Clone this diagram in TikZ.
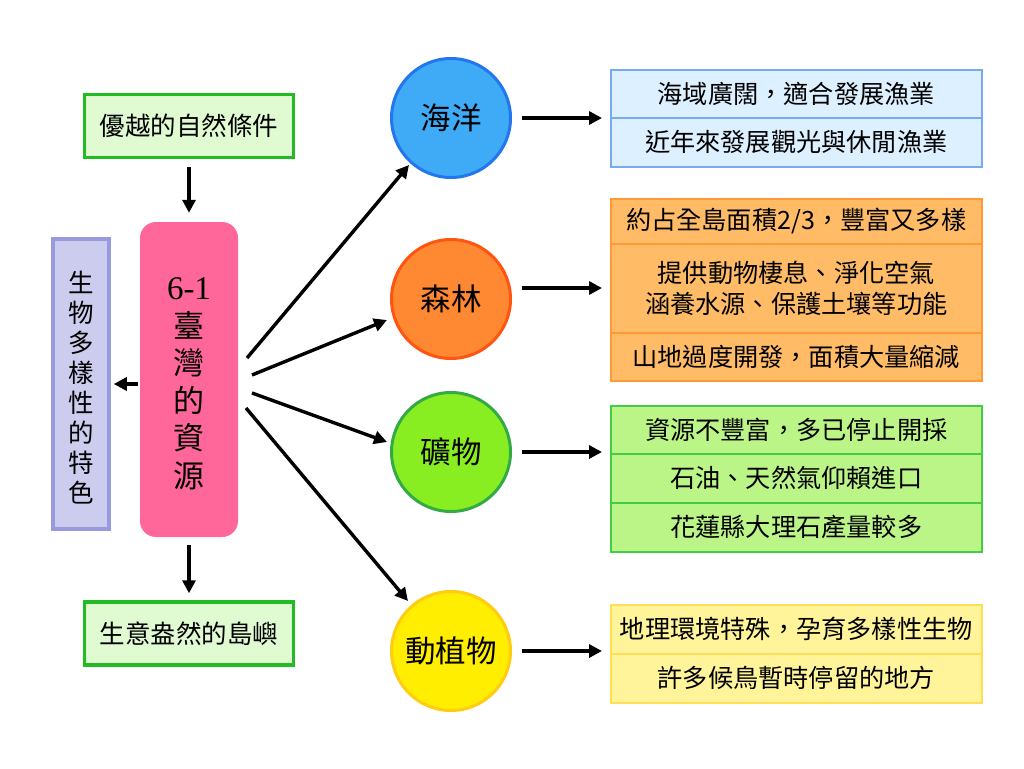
\documentclass[tikz,border=0pt]{standalone}
\usepackage{fontspec}
\setmainfont{Noto Sans CJK TC}
\newfontfamily\numfont{Liberation Serif}
\usetikzlibrary{arrows.meta}
\definecolor{gfill}{HTML}{E0FAD2}
\definecolor{gline}{HTML}{22BB22}
\definecolor{pinkc}{HTML}{FF6699}
\definecolor{pfill}{HTML}{CCCCEE}
\definecolor{pline}{HTML}{9999DD}
\definecolor{bcirc}{HTML}{3FAAF5}
\definecolor{bcircl}{HTML}{2277EE}
\definecolor{ocirc}{HTML}{FF8833}
\definecolor{ocircl}{HTML}{FF5511}
\definecolor{gcirc}{HTML}{88EE22}
\definecolor{gcircl}{HTML}{33AA44}
\definecolor{ycirc}{HTML}{FFEE00}
\definecolor{ycircl}{HTML}{FFCC11}
\definecolor{bbox}{HTML}{DDF0FF}
\definecolor{bboxl}{HTML}{77AAEE}
\definecolor{obox}{HTML}{FFBB66}
\definecolor{oboxl}{HTML}{FF9933}
\definecolor{grbox}{HTML}{BBF588}
\definecolor{grboxl}{HTML}{44CC44}
\definecolor{ybox}{HTML}{FFF49A}
\definecolor{yboxl}{HTML}{FFDD55}
\tikzset{
  arr/.style={line width=3.4pt, -{Triangle[length=13pt,width=13pt]}},
  greenbox/.style={draw=gline, fill=gfill, line width=3.5pt, minimum width=209pt, minimum height=63pt, inner sep=0pt, font=\fontsize{25.5}{28}\selectfont},
  res/.style={circle, line width=3pt, minimum size=119pt, inner sep=0pt, font=\fontsize{30.5}{32}\selectfont},
  row/.style={rectangle, anchor=north west, line width=1.5pt, minimum width=371pt, inner sep=0pt, align=center, font=\fontsize{25.2}{31}\selectfont},
}
\begin{document}
\begin{tikzpicture}[x=1pt,y=-1pt]
\useasboundingbox (0,0) rectangle (1024,768);
% left column
\node[greenbox] (cond) at (189,126) {優越的自然條件};
\node[greenbox] (island) at (189,633.5) {生意盎然的島嶼};
\node[rectangle, rounded corners=16pt, fill=pinkc, minimum width=98pt, minimum height=315pt] (src) at (189,379.5) {};
\node[align=center, font=\fontsize{31}{37.5}\selectfont] (srct) at (189,384) {{\numfont\fontsize{33}{37.5}\selectfont 6-1}\\臺\\灣\\的\\資\\源};
\node[rectangle, draw=pline, fill=pfill, line width=3.5pt, minimum width=56pt, minimum height=290pt] (bio) at (81,384) {};
\node[align=center, font=\fontsize{25.5}{30}\selectfont] (biot) at (81,388) {生\\物\\多\\樣\\性\\的\\特\\色};
\draw[arr, shorten <=8pt, shorten >=9pt] (cond.south) -- (src.north);
\draw[arr, shorten <=8pt, shorten >=7pt] (src.south) -- (island.north);
\draw[arr, shorten <=2pt, shorten >=3pt] (src.west |- 0,384) -- (bio.east |- 0,384);
% resources
\node[res, draw=bcircl, fill=bcirc] (ocean) at (451,118) {海洋};
\node[res, draw=ocircl, fill=ocirc] (forest) at (451,299) {森林};
\node[res, draw=gcircl, fill=gcirc] (mineral) at (451,452) {礦物};
\node[res, draw=ycircl, fill=ycirc] (life) at (451,651) {動植物};
\coordinate (s1) at (247,358);
\coordinate (s2) at (252,375);
\coordinate (s3) at (252,393);
\coordinate (s4) at (246,408);
\coordinate (t1) at (409,165);
\coordinate (t2) at (387,320);
\coordinate (t3) at (387,442);
\coordinate (t4) at (408,601);
\draw[arr] (s1) -- (t1);
\draw[arr] (s2) -- (t2);
\draw[arr] (s3) -- (t3);
\draw[arr] (s4) -- (t4);
% ocean box
\node[row, draw=bboxl, fill=bbox, minimum height=48pt] (o1) at (610,69) {海域廣闊，適合發展漁業};
\node[row, draw=bboxl, fill=bbox, minimum height=49pt] (o2) at (610,117) {近年來發展觀光與休閒漁業};
% forest box
\node[row, draw=oboxl, fill=obox, minimum height=45pt] (f1) at (610,198) {約占全島面積2/3，豐富又多樣};
\node[row, draw=oboxl, fill=obox, minimum height=89pt] (f2) at (610,243) {提供動物棲息、淨化空氣\\涵養水源、保護土壤等功能};
\node[row, draw=oboxl, fill=obox, minimum height=48pt] (f3) at (610,332) {山地過度開發，面積大量縮減};
% mineral box
\node[row, draw=grboxl, fill=grbox, minimum height=48pt] (m1) at (610,405) {資源不豐富，多已停止開採};
\node[row, draw=grboxl, fill=grbox, minimum height=49pt] (m2) at (610,453) {石油、天然氣仰賴進口};
\node[row, draw=grboxl, fill=grbox, minimum height=49pt] (m3) at (610,502) {花蓮縣大理石產量較多};
% life box
\node[row, draw=yboxl, fill=ybox, minimum height=49pt] (l1) at (610,604) {地理環境特殊，孕育多樣性生物};
\node[row, draw=yboxl, fill=ybox, minimum height=49pt] (l2) at (610,653) {許多候鳥暫時停留的地方};
% arrows to boxes
\draw[arr, shorten <=10pt, shorten >=8pt] (ocean.east) -- (ocean.east -| o1.west);
\draw[arr, shorten <=10pt, shorten >=8pt] (forest.east |- 0,288) -- (f2.west |- 0,288);
\draw[arr, shorten <=10pt, shorten >=8pt] (mineral.east) -- (mineral.east -| m1.west);
\draw[arr, shorten <=10pt, shorten >=8pt] (life.east) -- (life.east -| l1.west);
\end{tikzpicture}
\end{document}
